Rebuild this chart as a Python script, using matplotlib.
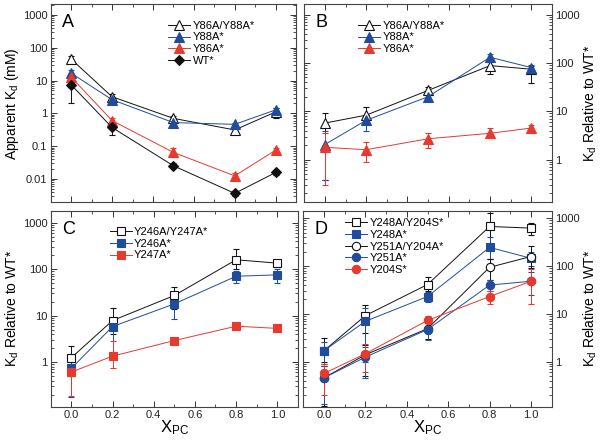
import numpy as np
import matplotlib
matplotlib.use("Agg")
import matplotlib.pyplot as plt
from matplotlib.ticker import LogLocator, FuncFormatter, MultipleLocator, NullFormatter

plt.rcParams['font.family'] = ['Liberation Sans', 'DejaVu Sans']
plt.rcParams['mathtext.fontset'] = 'custom'
plt.rcParams['mathtext.rm'] = 'Liberation Sans'
plt.rcParams['mathtext.it'] = 'Liberation Sans:italic'

x = [0.0, 0.2, 0.5, 0.8, 1.0]

# panel A: apparent Kd (mM)
a_dm = [45, 3.2, 0.7, 0.31, 1.1]
a_dm_lo = [35, 2.5, 0.55, 0.24, 0.7]
a_dm_hi = [55, 3.8, 0.85, 0.38, 1.4]
a_y88 = [16.7, 2.6, 0.52, 0.46, 1.27]
a_y88_lo = [12, 2.2, 0.45, 0.4, 1.1]
a_y88_hi = [21, 3.0, 0.6, 0.52, 1.45]
a_y86 = [12.7, 0.6, 0.064, 0.0123, 0.075]
a_y86_lo = [9, 0.5, 0.045, 0.01, 0.065]
a_y86_hi = [16, 0.7, 0.085, 0.015, 0.085]
a_wt = [7.4, 0.37, 0.025, 0.0036, 0.0156]
a_wt_lo = [2.1, 0.22, 0.021, 0.003, 0.013]
a_wt_hi = [12.5, 0.5, 0.03, 0.0042, 0.018]

# panel B: Kd relative to WT*
b_dm = [5.7, 8.3, 27, 88, 74]
b_dm_lo = [0.38, 5.5, 22, 59, 39]
b_dm_hi = [9.3, 12, 32, 115, 85]
b_y88 = [2.05, 6.5, 20, 131, 80]
b_y88_lo = [0.38, 3.9, 17, 110, 65]
b_y88_hi = [4.0, 8.5, 24, 150, 92]
b_y86 = [1.8, 1.6, 2.7, 3.5, 4.5]
b_y86_lo = [0.3, 0.9, 1.7, 2.9, 3.7]
b_y86_hi = [3.5, 2.3, 3.5, 4.4, 5.3]

# panel C
c_dm = [1.24, 7.8, 27, 158, 134]
c_dm_lo = [0.5, 4, 14, 100, 110]
c_dm_hi = [2.2, 14.6, 42, 268, 150]
c_y246 = [0.73, 5.8, 17.8, 70, 75]
c_y246_lo = [0.18, 1.2, 8.6, 50, 50]
c_y246_hi = [1.2, 9, 26, 90, 100]
c_y247 = [0.61, 1.34, 2.9, 5.9, 5.3]
c_y247_lo = [0.19, 0.76, 2.6, 5.2, 4.4]
c_y247_hi = [0.9, 2.9, 3.2, 6.6, 6.2]

# panel D
d_248_204 = [1.7, 9.2, 41, 670, 620]
d_248_204_lo = [1.0, 4, 30, 140, 450]
d_248_204_hi = [3.2, 15.6, 59, 1300, 780]
d_248 = [1.7, 7.0, 23, 245, 145]
d_248_lo = [0.9, 1.0, 18, 100, 100]
d_248_hi = [2.6, 13, 28, 400, 200]
d_251_204 = [0.46, 1.4, 4.9, 94, 158]
d_251_204_lo = [0.12, 0.5, 3, 50, 90]
d_251_204_hi = [0.8, 2.2, 7, 140, 260]
d_251 = [0.46, 1.25, 4.7, 40, 48]
d_251_lo = [0.13, 0.45, 2.8, 30, 25]
d_251_hi = [0.8, 2.0, 6.5, 50, 75]
d_204 = [0.57, 1.47, 7.3, 23, 48]
d_204_lo = [0.2, 0.6, 5.5, 16, 16]
d_204_hi = [0.9, 2.3, 9, 30, 85]

BLUE = '#1f4c9c'
RED = '#e8392f'
BLACK = '#111111'


def series(ax, y, lo, hi, color, marker, label, open_=False, ms=6):
    y = np.array(y, float)
    yerr = [y - np.array(lo, float), np.array(hi, float) - y]
    fc = 'white' if open_ else color
    cont = ax.errorbar(x, y, yerr=yerr, color=color, lw=0.7, elinewidth=0.7,
                       capsize=2, capthick=0.7, marker=marker, ms=ms,
                       mfc=fc, mec=color, mew=0.8)
    return cont[0], label


def style(ax, ylim, left_labels=True, xlabels=False):
    ax.set_yscale('log')
    ax.set_ylim(*ylim)
    ax.set_xlim(-0.1, 1.1)
    ax.xaxis.set_major_locator(MultipleLocator(0.2))
    ax.xaxis.set_minor_locator(MultipleLocator(0.1))
    ax.xaxis.set_major_formatter(FuncFormatter(lambda v, p: '%.1f' % v))
    ax.yaxis.set_major_locator(LogLocator(base=10, numticks=20))
    ax.yaxis.set_minor_locator(LogLocator(base=10, subs=np.arange(2, 10), numticks=20))
    ax.yaxis.set_major_formatter(FuncFormatter(lambda v, p: '%g' % v))
    ax.yaxis.set_minor_formatter(NullFormatter())
    ax.tick_params(which='both', direction='in', top=True, right=True,
                   labelsize=8, colors='#333333', labelcolor='#222222', pad=2.5)
    ax.tick_params(which='major', length=4, width=0.7)
    ax.tick_params(which='minor', length=2, width=0.6)
    ax.tick_params(axis='x', labelbottom=xlabels)
    if left_labels:
        ax.tick_params(axis='y', labelleft=True, labelright=False)
    else:
        ax.tick_params(axis='y', labelleft=False, labelright=True)
    for s in ax.spines.values():
        s.set_color('#444444')
        s.set_linewidth(0.8)


def legend(ax, items, anchor):
    handles = [h for h, _ in items]
    labels = [l for _, l in items]
    ax.legend(handles, labels, loc='upper left', bbox_to_anchor=anchor,
              frameon=False, fontsize=8, handlelength=2.0, handletextpad=0.2,
              labelspacing=0.15, borderaxespad=0.0, numpoints=1)


fig = plt.figure(figsize=(6, 4.43), dpi=100)
axA = fig.add_axes([0.0845, 0.543, 0.409, 0.447])
axB = fig.add_axes([0.507, 0.543, 0.413, 0.447])
axC = fig.add_axes([0.0845, 0.082, 0.412, 0.442])
axD = fig.add_axes([0.5055, 0.082, 0.414, 0.442])

# A
hA = [series(axA, a_dm, a_dm_lo, a_dm_hi, BLACK, '^', 'Y86A/Y88A*', open_=True, ms=6.5),
      series(axA, a_y88, a_y88_lo, a_y88_hi, BLUE, '^', 'Y88A*', ms=6.5),
      series(axA, a_y86, a_y86_lo, a_y86_hi, RED, '^', 'Y86A*', ms=6.5),
      series(axA, a_wt, a_wt_lo, a_wt_hi, BLACK, 'D', 'WT*', ms=5)]
style(axA, (0.0019, 2100))
axA.set_ylabel('Apparent K$_\\mathrm{d}$ (mM)', fontsize=10, labelpad=1)

# B
hB = [series(axB, b_dm, b_dm_lo, b_dm_hi, BLACK, '^', 'Y86A/Y88A*', open_=True, ms=6.5),
      series(axB, b_y88, b_y88_lo, b_y88_hi, BLUE, '^', 'Y88A*', ms=6.5),
      series(axB, b_y86, b_y86_lo, b_y86_hi, RED, '^', 'Y86A*', ms=6.5)]
style(axB, (0.13, 1620), left_labels=False)
axB.yaxis.set_label_position('right')
axB.set_ylabel('K$_\\mathrm{d}$ Relative to WT*', fontsize=10, labelpad=1)

# C
hC = [series(axC, c_dm, c_dm_lo, c_dm_hi, BLACK, 's', 'Y246A/Y247A*', open_=True),
      series(axC, c_y246, c_y246_lo, c_y246_hi, BLUE, 's', 'Y246A*'),
      series(axC, c_y247, c_y247_lo, c_y247_hi, RED, 's', 'Y247A*')]
style(axC, (0.11, 1780), xlabels=True)
axC.set_ylabel('K$_\\mathrm{d}$ Relative to WT*', fontsize=10, labelpad=1)
axC.set_xlabel('X$_\\mathrm{PC}$', fontsize=12, labelpad=-1)

# D
hD = [series(axD, d_248_204, d_248_204_lo, d_248_204_hi, BLACK, 's', 'Y248A/Y204S*', open_=True),
      series(axD, d_248, d_248_lo, d_248_hi, BLUE, 's', 'Y248A*'),
      series(axD, d_251_204, d_251_204_lo, d_251_204_hi, BLACK, 'o', 'Y251A/Y204A*', open_=True),
      series(axD, d_251, d_251_lo, d_251_hi, BLUE, 'o', 'Y251A*'),
      series(axD, d_204, d_204_lo, d_204_hi, RED, 'o', 'Y204S*')]
style(axD, (0.115, 1420), left_labels=False, xlabels=True)
axD.yaxis.set_label_position('right')
axD.set_ylabel('K$_\\mathrm{d}$ Relative to WT*', fontsize=10, labelpad=1)
axD.set_xlabel('X$_\\mathrm{PC}$', fontsize=12, labelpad=-1)

for ax, letter in zip([axA, axB, axC, axD], 'ABCD'):
    ax.text(0.045, 0.95, letter, transform=ax.transAxes, fontsize=13,
            va='top', ha='left')

legend(axA, hA, (0.46, 0.94))
legend(axB, hB, (0.2, 0.94))
legend(axC, hC, (0.22, 0.94))
legend(axD, hD, (0.15, 0.985))

fig.savefig('out.png', dpi=100)
